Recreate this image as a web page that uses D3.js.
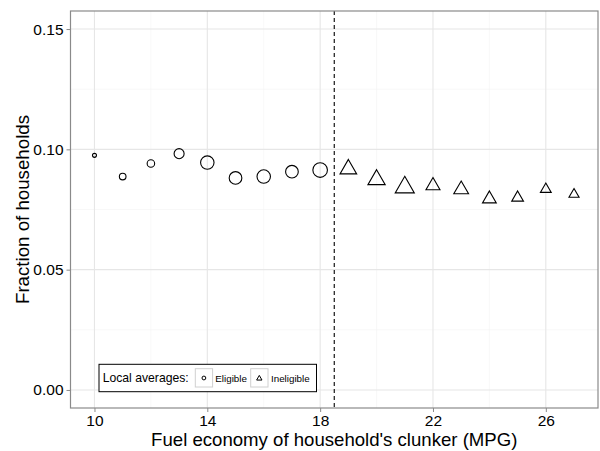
<!DOCTYPE html>
<html><head><meta charset="utf-8">
<script src="https://cdn.jsdelivr.net/npm/d3@7"></script>
<style>body{margin:0;background:#fff}svg{display:block}text{font-family:"Liberation Sans",Arial,sans-serif}</style>
</head><body><svg id="c" width="600" height="451"></svg>
<script>
const eligibleMPG = [10,11,12,13,14,15,16,17,18];
const eligibleFrac = [0.0975,0.0887,0.0941,0.0982,0.0945,0.0881,0.0887,0.0907,0.0914];
const eligibleWeight = [4,11,14,25,45,40,45,40,53];
const ineligibleMPG = [19,20,21,22,23,24,25,26,27];
const ineligibleFrac = [0.0918,0.0874,0.0842,0.0849,0.0833,0.0794,0.0799,0.0834,0.0813];
const ineligibleWeight = [38,41,50,27,30,26,19,16,14];
const xTicks = [10,14,18,22,26];
const yTicks = [0,0.05,0.10,0.15];
const cutoff = 18.5;
const xLabel = "Fuel economy of household's clunker (MPG)";
const yLabel = "Fraction of households";
const legendTitle = "Local averages:";
const legendLabels = ["Eligible","Ineligible"];

const svg = d3.select("#c");
const L=70.5, R=598, T=11, B=408;
const x = d3.scaleLinear().domain([10-0.85, 27+0.85]).range([L,R]);
const y = d3.scaleLinear().domain([-0.0075, 0.1575]).range([B,T]);
const rs = d3.scaleSqrt().domain([0,53]).range([0,7.3]);

const g = svg.append("g");
const xMinor = [12,16,20,24], yMinor=[0.025,0.075,0.125];
g.selectAll(".xm").data(xMinor).join("line").attr("x1",d=>x(d)).attr("x2",d=>x(d)).attr("y1",T).attr("y2",B).attr("stroke","#f4f4f4").attr("stroke-width",0.6);
g.selectAll(".ym").data(yMinor).join("line").attr("y1",d=>y(d)).attr("y2",d=>y(d)).attr("x1",L).attr("x2",R).attr("stroke","#f4f4f4").attr("stroke-width",0.6);
g.selectAll(".xg").data(xTicks).join("line").attr("x1",d=>x(d)).attr("x2",d=>x(d)).attr("y1",T).attr("y2",B).attr("stroke","#e6e6e6").attr("stroke-width",1.1);
g.selectAll(".yg").data(yTicks).join("line").attr("y1",d=>y(d)).attr("y2",d=>y(d)).attr("x1",L).attr("x2",R).attr("stroke","#e6e6e6").attr("stroke-width",1.1);

const xAxis = svg.append("g").attr("transform",`translate(0,${B})`).call(d3.axisBottom(x).tickValues(xTicks).tickSize(4).tickPadding(3).tickFormat(d3.format("d")));
const yAxis = svg.append("g").attr("transform",`translate(${L},0)`).call(d3.axisLeft(y).tickValues(yTicks).tickSize(4).tickPadding(3).tickFormat(d3.format(".2f")));
[xAxis,yAxis].forEach(a=>{a.select(".domain").remove();a.selectAll(".tick line").attr("stroke","#8a8a8a").attr("stroke-width",1);a.selectAll("text").attr("font-size",15.5).attr("fill","#000").attr("font-family","Liberation Sans, Arial, sans-serif");});

svg.append("line").attr("x1",x(cutoff)).attr("x2",x(cutoff)).attr("y1",T).attr("y2",B).attr("stroke","#000").attr("stroke-width",1.1).attr("stroke-dasharray","4,3");

const elig = eligibleMPG.map((m,i)=>({m,f:eligibleFrac[i],w:eligibleWeight[i]}));
const inel = ineligibleMPG.map((m,i)=>({m,f:ineligibleFrac[i],w:ineligibleWeight[i]}));
function tri(R){const s=Math.sqrt(3)/2;return `M0,${-R}L${R*s},${R/2}L${-R*s},${R/2}Z`;}
svg.append("g").selectAll("circle").data(elig).join("circle").attr("cx",d=>x(d.m)).attr("cy",d=>y(d.f)).attr("r",d=>rs(d.w)).attr("fill","none").attr("stroke","#000").attr("stroke-width",1.1);
svg.append("g").selectAll("path").data(inel).join("path").attr("transform",d=>`translate(${x(d.m)},${y(d.f)})`).attr("d",d=>tri(rs(d.w)*1.555)).attr("fill","none").attr("stroke","#000").attr("stroke-width",1.1);

svg.append("rect").attr("x",L).attr("y",T).attr("width",R-L).attr("height",B-T).attr("fill","none").attr("stroke","#8a8a8a").attr("stroke-width",1.2);

svg.append("text").attr("x",(L+R)/2).attr("y",445.5).attr("text-anchor","middle").attr("font-size",18.6).attr("fill","#000").text(xLabel);
svg.append("text").attr("transform",`translate(28.5,${(T+B)/2}) rotate(-90)`).attr("text-anchor","middle").attr("font-size",18.7).attr("fill","#000").text(yLabel);

const lg = svg.append("g");
lg.append("rect").attr("x",99).attr("y",364.3).attr("width",217.5).attr("height",27.4).attr("fill","#fff").attr("stroke","#000").attr("stroke-width",1);
lg.append("text").attr("x",102.7).attr("y",382).attr("font-size",12.2).attr("fill","#000").text(legendTitle);
const keys=[{x:195.3,lx:215.3},{x:250.7,lx:271}];
keys.forEach((k,i)=>{
  lg.append("rect").attr("x",k.x).attr("y",368.7).attr("width",17.3).attr("height",18.3).attr("fill","#fff").attr("stroke","#d0d0d0").attr("stroke-width",1);
  if(i===0) lg.append("circle").attr("cx",k.x+8.6).attr("cy",378).attr("r",1.9).attr("fill","none").attr("stroke","#000").attr("stroke-width",1);
  else lg.append("path").attr("transform",`translate(${k.x+8.6},378.5)`).attr("d",tri(3.1)).attr("fill","none").attr("stroke","#000").attr("stroke-width",1);
  lg.append("text").attr("x",k.lx).attr("y",381.5).attr("font-size",9.8).attr("fill","#000").text(legendLabels[i]);
});
</script></body></html>
